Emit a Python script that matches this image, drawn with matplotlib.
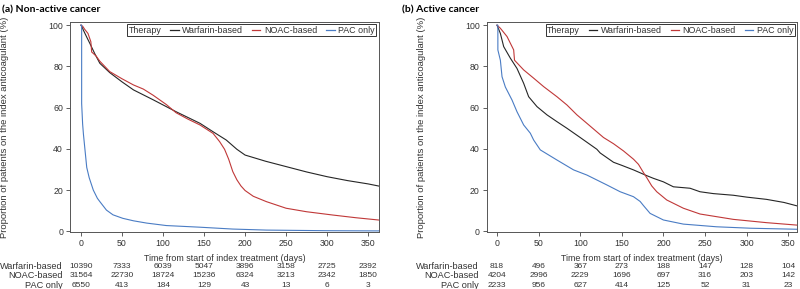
import matplotlib
matplotlib.use("Agg")
import matplotlib.pyplot as plt
from matplotlib.lines import Line2D

plt.rcParams['font.family'] = ['Liberation Sans', 'DejaVu Sans']

# ---- (a) non-active cancer ----
a_warf_days = [0, 1, 3, 7, 11, 17, 23, 35, 50, 64, 88, 116, 145, 161, 177, 190, 200, 225, 250, 275, 300, 325, 350, 365]
a_warf = [100, 99.3, 97.5, 94.2, 91, 86, 81.5, 77, 72.5, 68.6, 63.8, 58, 52.4, 48.3, 44.3, 39.8, 37, 34, 31.4, 28.8, 26.5, 24.6, 23, 21.8]
a_noac_days = [0, 2, 4.5, 8.5, 12, 13, 18.5, 23, 35, 50, 64, 76, 88, 104, 116, 130, 145, 161, 169, 175, 180, 185, 190, 195, 200, 210, 226, 250, 275, 307, 335, 365]
a_noac = [100, 99.5, 98, 96, 92, 87, 85, 82.5, 77.5, 74, 71, 69, 66, 61.5, 57.5, 54.5, 51.6, 47.5, 43.5, 39.8, 35, 29, 25, 22, 19.8, 17, 14.4, 11.2, 9.5, 7.9, 6.6, 5.4]
a_pac_days = [0, 0.8, 0.8, 2, 3, 4, 7, 10, 15, 20, 23, 31, 39, 51, 64, 80, 104, 145, 185, 226, 300, 365]
a_pac = [100, 100, 62, 52, 47, 43, 31, 26, 20, 16, 14.4, 10.3, 8, 6.3, 5.1, 4, 2.8, 2, 1.1, 0.6, 0.3, 0.2]

# ---- (b) active cancer ----
b_warf_days = [0, 4, 8, 16, 24, 32, 38, 48, 60, 72, 84, 100, 120, 124, 140, 150, 164, 180, 188, 200, 212, 232, 244, 260, 284, 300, 324, 345, 361]
b_warf = [100, 96, 89.6, 84, 79, 71.8, 65.3, 60.5, 56.5, 53.2, 50, 45.5, 39.8, 38, 33.5, 32, 29.8, 27, 25.7, 24, 21.6, 20.9, 19.2, 18.3, 17.5, 16.6, 15.5, 14, 12.3]
b_noac_days = [0, 4, 12, 20, 21, 32, 44, 56, 72, 84, 96, 108, 128, 140, 152, 164, 170, 176, 180, 186, 192, 204, 224, 244, 284, 324, 361]
b_noac = [100, 98.5, 94.5, 88, 83, 78.3, 74.3, 70.2, 65.3, 61.3, 56.5, 52.4, 45.5, 42.5, 39, 35, 32.5, 28.5, 26, 22, 19.2, 15.2, 11.2, 8.4, 5.8, 4.2, 3]
b_pac_days = [0, 1, 1, 4, 6, 10, 18, 24, 32, 40, 44, 52, 72, 92, 108, 132, 148, 164, 172, 176, 184, 200, 224, 264, 305, 361]
b_pac = [100, 100, 88, 83, 75, 70, 63.7, 58, 51.6, 47.6, 44.3, 39.5, 34.6, 29.8, 27.3, 22.5, 19.2, 16.8, 14.5, 12.5, 8.7, 5.5, 3.5, 2.2, 1.5, 1.0]

risk_days = [0, 50, 100, 150, 200, 250, 300, 350]
groups = ['Warfarin-based', 'NOAC-based', 'PAC only']
a_risk_warf = [10390, 7333, 6039, 5047, 3896, 3158, 2725, 2392]
a_risk_noac = [31564, 22730, 18724, 15236, 6324, 3213, 2342, 1850]
a_risk_pac = [6550, 413, 184, 129, 43, 13, 6, 3]
b_risk_warf = [818, 496, 367, 273, 188, 147, 128, 104]
b_risk_noac = [4204, 2996, 2229, 1696, 697, 316, 203, 142]
b_risk_pac = [2233, 956, 627, 414, 125, 52, 31, 23]

colors = ['#262626', '#c03838', '#4a7cc4']
txt = '#333333'


def panel(ax, curves, risk, xlim):
    for (d, v), c, lab in zip(curves, colors, groups):
        ax.plot(d, v, color=c, lw=0.8, label=lab)
    ax.set_xlim(*xlim)
    ax.set_ylim(-0.5, 101.7)
    ax.set_xticks(risk_days)
    ax.set_yticks([0, 20, 40, 60, 80, 100])
    ax.tick_params(labelsize=6.3, length=3, width=0.6, pad=2, colors='#444444', labelcolor=txt)
    for s in ax.spines.values():
        s.set_linewidth(0.7)
        s.set_color('#555555')
    ax.set_xlabel('Time from start of index treatment (days)', fontsize=6.4, color=txt, labelpad=4)
    ax.set_ylabel('Proportion of patients on the index anticoagulant (%)', fontsize=6.8, color=txt)
    ax.yaxis.set_label_coords(-0.197, 0.5)

    handles = [Line2D([], [], color='none')] + [Line2D([], [], color=c, lw=0.9) for c in colors]
    leg = ax.legend(handles, ['Therapy'] + groups, loc='upper right', ncol=4, fontsize=6.4,
                    frameon=True, fancybox=False, edgecolor='#333333', framealpha=1,
                    handlelength=0.95, handletextpad=0.4, columnspacing=1.0,
                    borderpad=0.15, borderaxespad=0.3)
    leg.get_frame().set_linewidth(0.7)
    for t in leg.get_texts():
        t.set_color(txt)
    first = leg._legend_handle_box.get_children()[0].get_children()[0]
    first.sep = 0
    first.get_children()[0].width = 0

    tr = ax.get_xaxis_transform()
    for row, (lab, vals) in enumerate(zip(groups, risk)):
        y = -0.162 - 0.045 * row
        ax.text(-0.025, y, lab, transform=ax.transAxes, ha='right', va='center', fontsize=6.6, color=txt)
        for d, n in zip(risk_days, vals):
            ax.text(d, y, str(n), transform=tr, ha='center', va='center', fontsize=6.0, color=txt)


fig = plt.figure(figsize=(8, 2.89), dpi=100)
ax1 = fig.add_axes([0.0875, 0.196, 0.386, 0.729])
ax2 = fig.add_axes([0.6084, 0.196, 0.3883, 0.729])

panel(ax1, [(a_warf_days, a_warf), (a_noac_days, a_noac), (a_pac_days, a_pac)],
      [a_risk_warf, a_risk_noac, a_risk_pac], (-13.4, 363))
panel(ax2, [(b_warf_days, b_warf), (b_noac_days, b_noac), (b_pac_days, b_pac)],
      [b_risk_warf, b_risk_noac, b_risk_pac], (-12.4, 361))

fig.text(0.003, 0.967, '(a) Non-active cancer', fontsize=7.5, fontweight='bold', family='Lato', va='center')
fig.text(0.503, 0.967, '(b) Active cancer', fontsize=7.5, fontweight='bold', family='Lato', va='center')

fig.savefig('out.png', dpi=100)
